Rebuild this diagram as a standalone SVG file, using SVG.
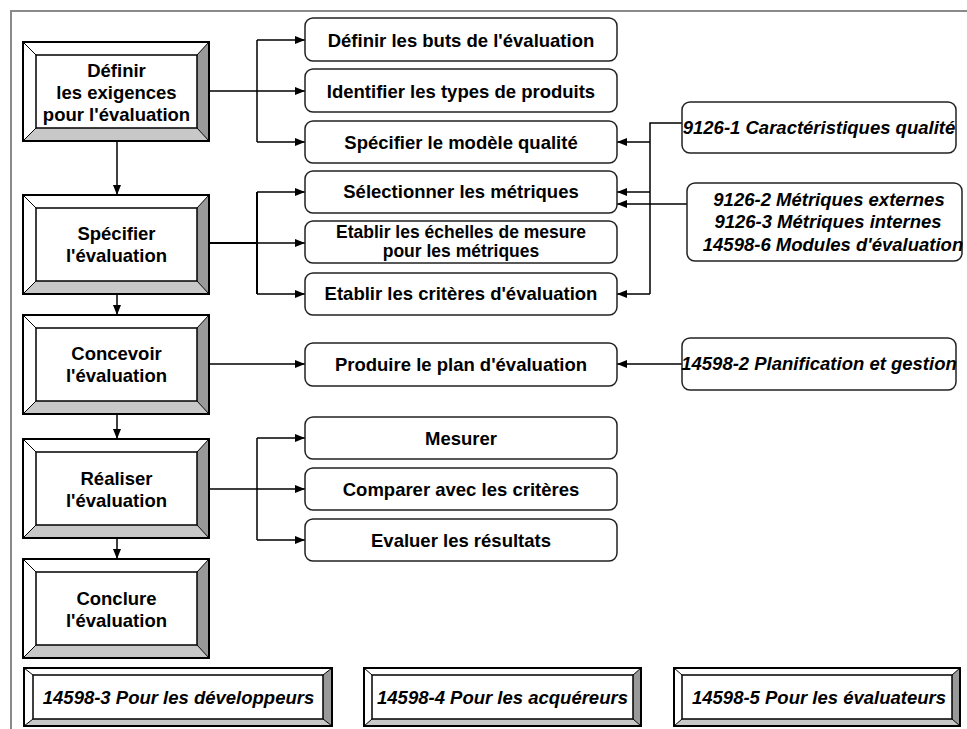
<svg xmlns="http://www.w3.org/2000/svg" xmlns:xlink="http://www.w3.org/1999/xlink" width="967" height="729" viewBox="0 0 967 729">
<style>
  text { font-family: "Liberation Sans", Arial, sans-serif; font-weight: bold; font-size: 18.5px; fill: #000; text-anchor: middle; }
  .it { font-style: italic; }
  .sm { font-size: 17.5px; }
  .hi { fill: #ffffff; }
  .dk { fill: #999999; }
  .md { fill: #c8c8c8; }
  .in { fill: #ffffff; stroke: #000; stroke-width: 1.5; }
  .out { fill: none; stroke: #000; stroke-width: 2; }
  .dg { stroke: #000; stroke-width: 1; }
  .rb { fill: #ffffff; stroke: #222; stroke-width: 1.5; }
  .cn { fill: none; stroke: #000; stroke-width: 1.5; }
  .ar { marker-end: url(#ah); }
  .frame { fill: none; stroke: #8a8a8a; stroke-width: 2; }
</style>
<defs>
  <marker id="ah" markerUnits="userSpaceOnUse" markerWidth="10" markerHeight="8" refX="10" refY="4" orient="auto">
    <path d="M0,0 L10,4 L0,8 z" fill="#000"/>
  </marker>
  <g id="bevel">
    <polygon class="hi" points="0,0 186,0 174,13 13,13"/>
    <polygon class="hi" points="0,0 13,13 13,86 0,99"/>
    <polygon class="dk" points="186,0 186,99 174,86 174,13"/>
    <polygon class="md" points="0,99 186,99 174,86 13,86"/>
    <rect class="in" x="13" y="13" width="161" height="73"/>
    <line class="dg" x1="0" y1="0" x2="13" y2="13"/>
    <line class="dg" x1="186" y1="0" x2="174" y2="13"/>
    <line class="dg" x1="0" y1="99" x2="13" y2="86"/>
    <line class="dg" x1="186" y1="99" x2="174" y2="86"/>
    <rect class="out" x="0" y="0" width="186" height="99"/>
  </g>
</defs>

<rect width="967" height="729" fill="#ffffff"/>
<path class="frame" d="M11,729 V11 H967"/>

<g id="connectors">
  <path class="cn" d="M209,91 H257 M257,40 V142"/>
  <path class="cn ar" d="M257,40 H305"/>
  <path class="cn ar" d="M257,91 H305"/>
  <path class="cn ar" d="M257,142 H305"/>

  <path class="cn" d="M209,243 H257 M257,192 V294" style="stroke-width:2"/>
  <path class="cn ar" d="M257,192 H305"/>
  <path class="cn ar" d="M257,243 H305"/>
  <path class="cn ar" d="M257,294 H305"/>

  <path class="cn ar" d="M209,364 H305"/>

  <path class="cn" d="M209,489 H257 M257,438 V540"/>
  <path class="cn ar" d="M257,438 H305"/>
  <path class="cn ar" d="M257,489 H305"/>
  <path class="cn ar" d="M257,540 H305"/>

  <path class="cn ar" d="M117,141 V195"/>
  <path class="cn ar" d="M117,294 V315"/>
  <path class="cn ar" d="M117,414 V439"/>
  <path class="cn ar" d="M117,538 V559"/>

  <path class="cn" d="M682,123 H650 V294"/>
  <path class="cn ar" d="M650,142 H617"/>
  <path class="cn ar" d="M650,192 H617"/>
  <path class="cn ar" d="M650,294 H617"/>
  <path class="cn ar" d="M687,204 H617"/>
  <path class="cn ar" d="M682,364 H617"/>
</g>

<g id="n-definir-exigences">
  <use xlink:href="#bevel" x="23" y="42"/>
  <text x="116.5" y="77">Définir</text>
  <text x="116.5" y="99">les exigences</text>
  <text x="116.5" y="121">pour l'évaluation</text>
</g>
<g id="n-specifier-evaluation">
  <use xlink:href="#bevel" x="23" y="195"/>
  <text x="116.5" y="239.5">Spécifier</text>
  <text x="116.5" y="261.5">l'évaluation</text>
</g>
<g id="n-concevoir-evaluation">
  <use xlink:href="#bevel" x="23" y="315"/>
  <text x="116.5" y="359.5">Concevoir</text>
  <text x="116.5" y="381.5">l'évaluation</text>
</g>
<g id="n-realiser-evaluation">
  <use xlink:href="#bevel" x="23" y="439"/>
  <text x="116.5" y="484.5">Réaliser</text>
  <text x="116.5" y="506.5">l'évaluation</text>
</g>
<g id="n-conclure-evaluation">
  <use xlink:href="#bevel" x="23" y="559"/>
  <text x="116.5" y="604.5">Conclure</text>
  <text x="116.5" y="626.5">l'évaluation</text>
</g>

<g id="n-buts">
  <rect class="rb" x="305" y="18" width="312" height="43" rx="8"/>
  <text x="461" y="47">Définir les buts de l'évaluation</text>
</g>
<g id="n-types">
  <rect class="rb" x="305" y="69" width="312" height="43" rx="8"/>
  <text x="461" y="98">Identifier les types de produits</text>
</g>
<g id="n-modele">
  <rect class="rb" x="305" y="121" width="312" height="42" rx="8"/>
  <text x="461" y="148.5">Spécifier le modèle qualité</text>
</g>
<g id="n-metriques">
  <rect class="rb" x="305" y="171" width="312" height="42" rx="8"/>
  <text x="461" y="198">Sélectionner les métriques</text>
</g>
<g id="n-echelles">
  <rect class="rb" x="305" y="221" width="312" height="42" rx="8"/>
  <text class="sm" x="461" y="237.5">Etablir les échelles de mesure</text>
  <text class="sm" x="461" y="257.3">pour les métriques</text>
</g>
<g id="n-criteres">
  <rect class="rb" x="305" y="273" width="312" height="42" rx="8"/>
  <text x="461" y="300">Etablir les critères d'évaluation</text>
</g>
<g id="n-plan">
  <rect class="rb" x="305" y="343" width="312" height="43" rx="8"/>
  <text x="461" y="371">Produire le plan d'évaluation</text>
</g>
<g id="n-mesurer">
  <rect class="rb" x="305" y="417" width="312" height="42" rx="8"/>
  <text x="461" y="444.5">Mesurer</text>
</g>
<g id="n-comparer">
  <rect class="rb" x="305" y="468" width="312" height="42" rx="8"/>
  <text x="461" y="495.5">Comparer avec les critères</text>
</g>
<g id="n-evaluer">
  <rect class="rb" x="305" y="519" width="312" height="42" rx="8"/>
  <text x="461" y="546.5">Evaluer les résultats</text>
</g>

<g id="n-9126-1">
  <rect class="rb" x="682" y="102" width="274" height="51" rx="8"/>
  <text class="it" x="819" y="133.5">9126-1 Caractéristiques qualité</text>
</g>
<g id="n-9126-2">
  <rect class="rb" x="687" y="183" width="275" height="78" rx="8"/>
  <text class="it" x="829" y="205.5">9126-2 Métriques externes</text>
  <text class="it" x="828" y="228">9126-3 Métriques internes</text>
  <text class="it" x="833" y="250.5">14598-6 Modules d'évaluation</text>
</g>
<g id="n-14598-2">
  <rect class="rb" x="682" y="338" width="274" height="52" rx="8"/>
  <text class="it" x="819" y="369.5">14598-2 Planification et gestion</text>
</g>

<g id="n-14598-3">
  <polygon class="hi" points="24,668 332,668 323,675 33,675"/>
  <polygon class="hi" points="24,668 33,675 33,719 24,726"/>
  <polygon class="dk" points="332,668 332,726 323,719 323,675"/>
  <polygon class="md" points="24,726 332,726 323,719 33,719"/>
  <rect class="in" x="33" y="675" width="290" height="44"/>
  <path class="dg" d="M24,668 L33,675 M332,668 L323,675 M24,726 L33,719 M332,726 L323,719"/>
  <rect class="out" x="24" y="668" width="308" height="58"/>
  <text class="it" x="178.5" y="703.5">14598-3 Pour les développeurs</text>
</g>
<g id="n-14598-4">
  <polygon class="hi" points="364,668 641,668 633,675 372,675"/>
  <polygon class="hi" points="364,668 372,675 372,719 364,726"/>
  <polygon class="dk" points="641,668 641,726 633,719 633,675"/>
  <polygon class="md" points="364,726 641,726 633,719 372,719"/>
  <rect class="in" x="372" y="675" width="261" height="44"/>
  <path class="dg" d="M364,668 L372,675 M641,668 L633,675 M364,726 L372,719 M641,726 L633,719"/>
  <rect class="out" x="364" y="668" width="277" height="58"/>
  <text class="it" x="502.5" y="703.5">14598-4 Pour les acquéreurs</text>
</g>
<g id="n-14598-5">
  <polygon class="hi" points="674,668 960,668 952,675 682,675"/>
  <polygon class="hi" points="674,668 682,675 682,719 674,726"/>
  <polygon class="dk" points="960,668 960,726 952,719 952,675"/>
  <polygon class="md" points="674,726 960,726 952,719 682,719"/>
  <rect class="in" x="682" y="675" width="270" height="44"/>
  <path class="dg" d="M674,668 L682,675 M960,668 L952,675 M674,726 L682,719 M960,726 L952,719"/>
  <rect class="out" x="674" y="668" width="286" height="58"/>
  <text class="it" x="819" y="703.5">14598-5 Pour les évaluateurs</text>
</g>
</svg>
